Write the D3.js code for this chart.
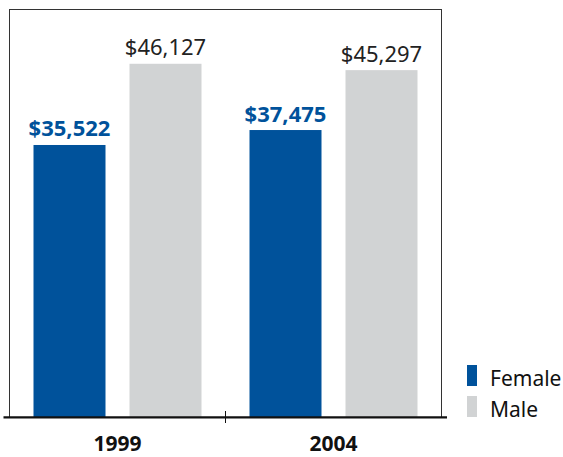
<!DOCTYPE html>
<html>
<head>
<meta charset="utf-8">
<script src="https://cdn.jsdelivr.net/npm/d3@7"></script>
<style>
  body { margin: 0; background: #fff; }
  svg { display: block; font-family: "Noto Sans", "Open Sans", sans-serif; }
</style>
</head>
<body>
<div id="chart"></div>
<script>
// Data
var years = ['1999', '2004'];
var sexes = ['Female', 'Male'];
var female = [35522, 37475];
var male = [46127, 45297];

var width = 563,
    height = 457;
var blue = '#00529b',
    gray = '#d1d3d4',
    textGray = '#222';

var svg = d3.select('#chart')
    .append('svg')
    .attr('width', width)
    .attr('height', height);

// Scales
var x = d3.scaleBand().domain(years).range([9.5, 441.5]).padding(0);
var xSex = d3.scaleBand().domain(sexes).range([0, x.bandwidth()]).padding(0.25);
var y = d3.scaleLinear().domain([0, 53150]).range([417, 10]);
var color = d3.scaleOrdinal().domain(sexes).range([blue, gray]);

// Frame
svg.append('rect')
    .attr('x', 9.5)
    .attr('y', 9.5)
    .attr('width', 432)
    .attr('height', 408)
    .attr('fill', 'none')
    .attr('stroke', '#333')
    .attr('stroke-width', 1);

// Build rows
var rows = [];
years.forEach(function(yr, i) {
    rows.push({year: yr, sex: 'Female', value: female[i]});
    rows.push({year: yr, sex: 'Male', value: male[i]});
});

// Bars
var bars = svg.selectAll('.bar')
    .data(rows)
    .enter()
    .append('g')
    .attr('class', 'bar')
    .attr('transform', function(d) { return 'translate(' + (x(d.year) + xSex(d.sex)) + ',0)'; });

bars.append('rect')
    .attr('x', 0)
    .attr('y', function(d) { return y(d.value); })
    .attr('width', xSex.bandwidth())
    .attr('height', function(d) { return y(0) - y(d.value); })
    .attr('fill', function(d) { return color(d.sex); });

// Value labels
var fmt = d3.format('$,');
bars.append('text')
    .attr('x', xSex.bandwidth() / 2)
    .attr('y', function(d) { return y(d.value) - 8.5; })
    .attr('text-anchor', 'middle')
    .style('font-size', '22px')
    .style('font-weight', function(d) { return d.sex === 'Female' ? 700 : 400; })
    .attr('fill', function(d) { return d.sex === 'Female' ? blue : textGray; })
    .text(function(d) { return fmt(d.value); });

// X axis
var axis = svg.append('g').attr('class', 'axis');
axis.append('line')
    .attr('x1', 3.5)
    .attr('x2', 447)
    .attr('y1', 417.3)
    .attr('y2', 417.3)
    .attr('stroke', '#111')
    .attr('stroke-width', 2.2);
axis.append('line')
    .attr('x1', x(years[1]))
    .attr('x2', x(years[1]))
    .attr('y1', 411)
    .attr('y2', 423)
    .attr('stroke', '#111')
    .attr('stroke-width', 1);
axis.selectAll('.year')
    .data(years)
    .enter()
    .append('text')
    .attr('class', 'year')
    .attr('x', function(d) { return x(d) + x.bandwidth() / 2; })
    .attr('y', 451)
    .attr('text-anchor', 'middle')
    .style('font-size', '21px')
    .style('font-weight', 700)
    .attr('fill', '#111')
    .text(function(d) { return d; });

// Legend
var legend = svg.selectAll('.legend')
    .data(sexes)
    .enter()
    .append('g')
    .attr('class', 'legend')
    .attr('transform', function(d, i) { return 'translate(467,' + (365 + i * 31) + ')'; });
legend.append('rect')
    .attr('width', 10)
    .attr('height', 21)
    .attr('fill', function(d) { return color(d); });
legend.append('text')
    .attr('x', 23)
    .attr('y', 21)
    .style('font-size', '21px')
    .attr('fill', '#111')
    .text(function(d) { return d; });
</script>
</body>
</html>
